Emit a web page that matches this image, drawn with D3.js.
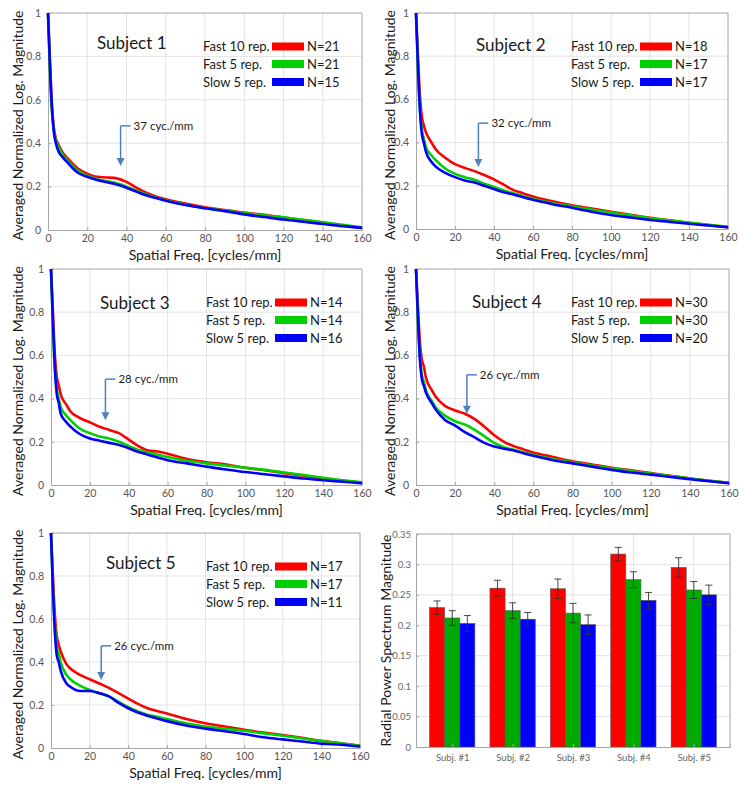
<!DOCTYPE html>
<html><head><meta charset="utf-8">
<script src="https://cdn.jsdelivr.net/npm/d3@7"></script>
<style>
body{margin:0;background:#fff;}
svg{display:block;font-family:Lato,"Open Sans",sans-serif;}
</style></head>
<body>
<svg id="chart" width="745" height="785"></svg>
<script>
// ---------- DATA ----------
const freq = [0,1,2,3,4,5,8,10,15,20,25,30,35,40,45,50,55,60,70,80,90,100,110,120,130,140,150,160];
const seriesNames = ["Fast 10 rep.","Fast 5 rep.","Slow 5 rep."];
const subjects = ["Subject 1","Subject 2","Subject 3","Subject 4","Subject 5"];
const markerFreq = [37,32,28,26,26];
const markerLabels = ["37 cyc./mm","32 cyc./mm","28 cyc./mm","26 cyc./mm","26 cyc./mm"];
const counts = [[21,21,15],[18,17,17],[14,14,16],[30,30,20],[17,17,11]];

const s1Fast10 = [1,0.78,0.58,0.47,0.42,0.40,0.35,0.33,0.285,0.26,0.245,0.242,0.238,0.222,0.195,0.172,0.155,0.142,0.122,0.105,0.092,0.08,0.07,0.058,0.046,0.034,0.021,0.01];
const s1Fast5  = [1,0.72,0.55,0.46,0.41,0.39,0.34,0.32,0.275,0.25,0.235,0.225,0.215,0.2,0.182,0.165,0.15,0.137,0.117,0.1,0.09,0.078,0.068,0.058,0.047,0.036,0.024,0.012];
const s1Slow5  = [1,0.76,0.56,0.45,0.40,0.37,0.33,0.31,0.265,0.245,0.23,0.22,0.21,0.195,0.177,0.16,0.147,0.135,0.115,0.1,0.087,0.072,0.06,0.048,0.038,0.028,0.018,0.01];

const s2Fast10 = [1,0.8,0.62,0.52,0.48,0.45,0.40,0.37,0.33,0.30,0.283,0.268,0.25,0.23,0.205,0.18,0.165,0.15,0.128,0.11,0.095,0.08,0.066,0.052,0.04,0.028,0.018,0.008];
const s2Fast5  = [1,0.74,0.56,0.46,0.42,0.38,0.34,0.32,0.28,0.255,0.24,0.228,0.21,0.195,0.178,0.165,0.152,0.14,0.12,0.105,0.09,0.076,0.063,0.05,0.04,0.03,0.02,0.01];
const s2Slow5  = [1,0.76,0.55,0.44,0.40,0.36,0.31,0.29,0.26,0.24,0.225,0.215,0.2,0.185,0.17,0.16,0.147,0.135,0.115,0.098,0.08,0.065,0.053,0.042,0.033,0.024,0.016,0.008];

const s3Fast10 = [1,0.8,0.6,0.5,0.46,0.42,0.37,0.34,0.31,0.29,0.27,0.255,0.24,0.21,0.18,0.16,0.155,0.145,0.12,0.105,0.095,0.08,0.068,0.055,0.043,0.03,0.02,0.01];
const s3Fast5  = [1,0.72,0.54,0.44,0.40,0.36,0.32,0.30,0.26,0.24,0.225,0.215,0.2,0.18,0.162,0.15,0.14,0.13,0.112,0.1,0.09,0.08,0.07,0.058,0.046,0.033,0.022,0.012];
const s3Slow5  = [1,0.76,0.54,0.42,0.38,0.33,0.29,0.27,0.235,0.215,0.205,0.195,0.185,0.17,0.153,0.14,0.127,0.115,0.1,0.085,0.072,0.06,0.05,0.04,0.03,0.022,0.015,0.008];

const s4Fast10 = [1,0.82,0.66,0.58,0.55,0.50,0.44,0.41,0.365,0.345,0.33,0.305,0.27,0.23,0.2,0.18,0.165,0.15,0.13,0.11,0.095,0.08,0.068,0.055,0.043,0.03,0.02,0.01];
const s4Fast5  = [1,0.75,0.6,0.51,0.48,0.44,0.39,0.36,0.32,0.295,0.28,0.255,0.225,0.195,0.175,0.163,0.152,0.14,0.12,0.105,0.09,0.077,0.065,0.053,0.042,0.03,0.02,0.01];
const s4Slow5  = [1,0.78,0.58,0.49,0.46,0.43,0.38,0.35,0.30,0.275,0.245,0.22,0.195,0.178,0.168,0.16,0.147,0.135,0.115,0.1,0.085,0.07,0.058,0.048,0.037,0.027,0.017,0.008];

const s5Fast10 = [1,0.8,0.62,0.52,0.48,0.45,0.39,0.37,0.34,0.32,0.30,0.28,0.255,0.23,0.205,0.185,0.172,0.16,0.135,0.115,0.1,0.085,0.072,0.06,0.047,0.033,0.022,0.01];
const s5Fast5  = [1,0.74,0.57,0.47,0.44,0.40,0.34,0.32,0.29,0.27,0.255,0.24,0.215,0.19,0.17,0.155,0.145,0.135,0.115,0.1,0.09,0.08,0.068,0.057,0.045,0.032,0.022,0.01];
const s5Slow5  = [1,0.74,0.54,0.43,0.40,0.36,0.30,0.285,0.265,0.265,0.255,0.24,0.21,0.185,0.165,0.15,0.137,0.125,0.105,0.09,0.078,0.065,0.05,0.04,0.03,0.02,0.015,0.007];

const curveData = [
  [s1Fast10,s1Fast5,s1Slow5],
  [s2Fast10,s2Fast5,s2Slow5],
  [s3Fast10,s3Fast5,s3Slow5],
  [s4Fast10,s4Fast5,s4Slow5],
  [s5Fast10,s5Fast5,s5Slow5]
];

const xTicks = [0,20,40,60,80,100,120,140,160];
const yTicks = [0,0.2,0.4,0.6,0.8,1];

// bar chart data
const barCategories = ["Subj. #1","Subj. #2","Subj. #3","Subj. #4","Subj. #5"];
const barFast10 = [0.229,0.261,0.260,0.317,0.295];
const barFast5  = [0.212,0.224,0.220,0.275,0.258];
const barSlow5  = [0.203,0.210,0.201,0.241,0.250];
const errFast10 = [0.011,0.013,0.016,0.011,0.016];
const errFast5  = [0.012,0.013,0.016,0.013,0.014];
const errSlow5  = [0.013,0.011,0.016,0.013,0.016];
const barYTicks = [0,0.05,0.1,0.15,0.2,0.25,0.3,0.35];

// ---------- STYLE / LAYOUT ----------
const lineColors = ["#ff0000","#00d000","#0000ff"];
const barColors = ["#ff0000","#00aa00","#0000ff"];
const panels = [
  {l:48, r:362, t:13, b:230, tx:49, ty:30, ylx:18, arrowTop:0.48, arrowTip:0.295},
  {l:416,r:728, t:13, b:229, tx:60, ty:32, ylx:390, arrowTop:0.49, arrowTip:0.287},
  {l:51, r:362, t:269,b:485, tx:49, ty:34, ylx:18, arrowTop:0.49, arrowTip:0.30},
  {l:416,r:729, t:269,b:485, tx:56, ty:33, ylx:390, arrowTop:0.51, arrowTip:0.33},
  {l:51, r:360, t:533,b:748, tx:55, ty:30, ylx:18, arrowTop:0.475, arrowTip:0.316}
];
const barPanel = {l:416, r:730, t:534, b:747, ylx:386};
const gridColor = "#e3e3e3";
const axisColor = "#a6a6a6";
const tickText = "#555";
const arrowColor = "#4f81bd";

const svg = d3.select("#chart");
svg.append("rect").attr("width",745).attr("height",785).attr("fill","#fff");

panels.forEach((p,i)=>{
  const g = svg.append("g");
  const x = d3.scaleLinear().domain([0,160]).range([p.l,p.r]);
  const y = d3.scaleLinear().domain([0,1]).range([p.b,p.t]);

  // grid
  g.selectAll(".vg").data(xTicks.slice(1,-1)).join("line")
    .attr("x1",d=>x(d)).attr("x2",d=>x(d)).attr("y1",p.t).attr("y2",p.b)
    .attr("stroke",gridColor).attr("stroke-width",1);
  g.selectAll(".hg").data(yTicks.slice(1,-1)).join("line")
    .attr("x1",p.l).attr("x2",p.r).attr("y1",d=>y(d)).attr("y2",d=>y(d))
    .attr("stroke",gridColor).attr("stroke-width",1);

  // axes
  const ax = d3.axisBottom(x).tickValues(xTicks).tickSize(-3).tickPadding(5).tickFormat(d3.format("d"));
  const gx = g.append("g").attr("transform",`translate(0,${p.b})`).call(ax);
  const ay = d3.axisLeft(y).tickValues(yTicks).tickSize(-3).tickPadding(7).tickFormat(d=>d===0?"0":d===1?"1":d3.format(".1f")(d));
  const gy = g.append("g").attr("transform",`translate(${p.l},0)`).call(ay);
  [gx,gy].forEach(a=>{
    a.select(".domain").attr("stroke",axisColor);
    a.selectAll(".tick line").attr("stroke",axisColor);
    a.selectAll(".tick text").attr("fill",tickText).style("font-size","10.5px").style("font-family","Lato, sans-serif");
  });
  // box top/right
  g.append("line").attr("x1",p.l).attr("x2",p.r).attr("y1",p.t).attr("y2",p.t).attr("stroke",axisColor);
  g.append("line").attr("x1",p.r).attr("x2",p.r).attr("y1",p.t).attr("y2",p.b).attr("stroke",axisColor);

  // curves
  const line = d3.line().x((d,k)=>x(freq[k])).y(d=>y(d)).curve(d3.curveMonotoneX);
  curveData[i].forEach((vals,s)=>{
    g.append("path").attr("d",line(vals)).attr("fill","none")
      .attr("stroke",lineColors[s]).attr("stroke-width",2.6).attr("stroke-linejoin","round");
  });

  // title
  g.append("text").attr("x",p.l+p.tx).attr("y",p.t+p.ty).attr("dy","0.35em")
    .style("font-size","17px").attr("fill","#1a1a1a").text(subjects[i]);

  // legend
  const legRows = [33.5,51,69];
  seriesNames.forEach((nm,s)=>{
    const cy = p.t+legRows[s];
    g.append("text").attr("x",p.l+155).attr("y",cy).attr("dy","0.35em")
      .style("font-size","13px").attr("fill","#1a1a1a").text(nm);
    g.append("rect").attr("x",p.l+224).attr("y",cy-4).attr("width",32).attr("height",8)
      .attr("fill",lineColors[s]);
    g.append("text").attr("x",p.l+259).attr("y",cy).attr("dy","0.35em")
      .style("font-size","13px").attr("fill","#1a1a1a").text("N="+counts[i][s]);
  });

  // arrow marker
  const ax0 = x(markerFreq[i]);
  const yTop = y(p.arrowTop), yTip = y(p.arrowTip);
  g.append("line").attr("x1",ax0).attr("x2",ax0).attr("y1",yTop).attr("y2",yTip-6)
    .attr("stroke",arrowColor).attr("stroke-width",1.5);
  g.append("line").attr("x1",ax0).attr("x2",ax0+10).attr("y1",yTop).attr("y2",yTop)
    .attr("stroke",arrowColor).attr("stroke-width",1.5);
  g.append("path").attr("d",`M${ax0-4},${yTip-8}L${ax0+4},${yTip-8}L${ax0},${yTip}Z`)
    .attr("fill",arrowColor);
  g.append("text").attr("x",ax0+13).attr("y",yTop).attr("dy","0.35em")
    .style("font-size","11.5px").attr("fill","#1a1a1a").text(markerLabels[i]);

  // axis labels
  g.append("text").attr("x",(p.l+p.r)/2).attr("y",p.b+25).attr("dy","0.35em")
    .attr("text-anchor","middle").style("font-size","14px").attr("fill","#1a1a1a")
    .text("Spatial Freq. [cycles/mm]");
  g.append("text").attr("transform",`translate(${p.ylx},${(p.t+p.b)/2+4}) rotate(-90)`)
    .attr("dy","0.35em").attr("text-anchor","middle").style("font-size","14px").attr("fill","#1a1a1a")
    .text("Averaged Normalized Log. Magnitude");
});

// ---------- BAR CHART ----------
(function(){
  const p = barPanel;
  const g = svg.append("g");
  const x = d3.scaleLinear().domain([0.4,5.6]).range([p.l,p.r]);
  const y = d3.scaleLinear().domain([0,0.35]).range([p.b,p.t]);
  const idx = barCategories.map((c,k)=>k+1);

  g.selectAll(".vg").data(idx).join("line")
    .attr("x1",d=>x(d)).attr("x2",d=>x(d)).attr("y1",p.t).attr("y2",p.b)
    .attr("stroke",gridColor);
  g.selectAll(".hg").data(barYTicks.slice(1,-1)).join("line")
    .attr("x1",p.l).attr("x2",p.r).attr("y1",d=>y(d)).attr("y2",d=>y(d))
    .attr("stroke",gridColor);

  const vals = [barFast10,barFast5,barSlow5];
  const errs = [errFast10,errFast5,errSlow5];
  const off = [-0.25,0,0.25], bw = 0.25;
  vals.forEach((arr,s)=>{
    arr.forEach((v,k)=>{
      const cx = idx[k]+off[s];
      g.append("rect").attr("x",x(cx-bw/2)).attr("width",x(cx+bw/2)-x(cx-bw/2))
        .attr("y",y(v)).attr("height",y(0)-y(v))
        .attr("fill",barColors[s]).attr("stroke","#555").attr("stroke-width",0.6);
    });
  });
  vals.forEach((arr,s)=>{
    arr.forEach((v,k)=>{
      const cx = x(idx[k]+off[s]);
      const e = errs[s][k];
      g.append("line").attr("x1",cx).attr("x2",cx).attr("y1",y(v-e)).attr("y2",y(v+e)).attr("stroke","#333").attr("stroke-width",0.9);
      [v-e,v+e].forEach(t=>g.append("line").attr("x1",cx-3.5).attr("x2",cx+3.5).attr("y1",y(t)).attr("y2",y(t)).attr("stroke","#333").attr("stroke-width",0.9));
    });
  });

  const ax = d3.axisBottom(x).tickValues(idx).tickSize(-3).tickPadding(7).tickFormat((d,k)=>barCategories[k]);
  const gx = g.append("g").attr("transform",`translate(0,${p.b})`).call(ax);
  const ay = d3.axisLeft(y).tickValues(barYTicks).tickSize(-3).tickPadding(5).tickFormat(d=>d===0?"0":String(+d.toFixed(2)));
  const gy = g.append("g").attr("transform",`translate(${p.l},0)`).call(ay);
  [gx,gy].forEach(a=>{
    a.select(".domain").attr("stroke",axisColor);
    a.selectAll(".tick line").attr("stroke",axisColor);
    a.selectAll(".tick text").attr("fill","#666").style("font-size","9.5px").style("font-family","Lato, sans-serif");
  });
  g.append("line").attr("x1",p.l).attr("x2",p.r).attr("y1",p.t).attr("y2",p.t).attr("stroke",axisColor);
  g.append("line").attr("x1",p.r).attr("x2",p.r).attr("y1",p.t).attr("y2",p.b).attr("stroke",axisColor);

  g.append("text").attr("transform",`translate(${p.ylx},${(p.t+p.b)/2}) rotate(-90)`)
    .attr("dy","0.35em").attr("text-anchor","middle").style("font-size","14px").attr("fill","#1a1a1a")
    .text("Radial Power Spectrum Magnitude");
})();
</script>
</body></html>
